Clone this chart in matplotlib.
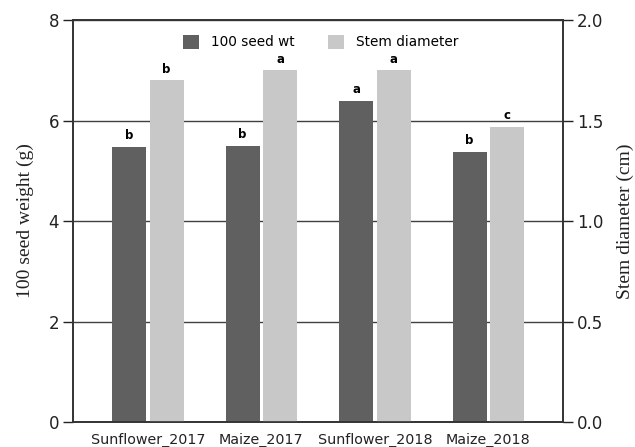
import matplotlib
matplotlib.use("Agg")
import matplotlib.pyplot as plt
import numpy as np

categories = ["Sunflower_2017", "Maize_2017", "Sunflower_2018", "Maize_2018"]
seed_wt = [5.47, 5.50, 6.39, 5.38]
stem_diam = [1.70, 1.75, 1.75, 1.47]
seed_letters = ["b", "b", "a", "b"]
stem_letters = ["b", "a", "a", "c"]

dark = "#606060"
light = "#c8c8c8"

fig = plt.figure(figsize=(6.35, 4.47), dpi=100)
ax = fig.add_axes([0.115, 0.056, 0.772, 0.899])
ax2 = ax.twinx()

x = np.arange(len(categories))
w = 0.30
off = 0.165

ax.set_axisbelow(True)
ax.yaxis.grid(True, color="#404040", linewidth=1.0)
b1 = ax.bar(x - off, seed_wt, w, color=dark, label="100 seed wt", zorder=2)
b2 = ax2.bar(x + off, stem_diam, w, color=light, label="Stem diameter", zorder=2)

ax.set_ylim(0, 8)
ax2.set_ylim(0, 2)
ax.set_xlim(-0.66, 3.66)
ax.set_yticks([0, 2, 4, 6, 8])
ax2.set_yticks([0, 0.5, 1.0, 1.5, 2.0])
ax2.set_yticklabels(["0.0", "0.5", "1.0", "1.5", "2.0"])
ax.set_xticks(x)
ax.set_xticklabels(categories, fontsize=10.3, color="#222222")

for a in (ax, ax2):
    a.tick_params(axis="y", direction="out", length=7, width=1, labelsize=12, colors="#222222", pad=3)
    for s in a.spines.values():
        s.set_color("#333333")
        s.set_linewidth(1.2)
ax.tick_params(axis="x", length=0, pad=8)

for xi, v, t in zip(x - off, seed_wt, seed_letters):
    ax.text(xi, v + 0.1, t, ha="center", va="bottom", fontsize=8.5, fontweight="bold")
for xi, v, t in zip(x + off, stem_diam, stem_letters):
    ax2.text(xi, v + 0.022, t, ha="center", va="bottom", fontsize=8.5, fontweight="bold")

fig.text(25 / 635, 1 - 221 / 447, "100 seed weight (g)", family="Liberation Serif", fontsize=14,
         rotation=90, ha="center", va="center", color="#222222")
fig.text(625 / 635, 1 - 221 / 447, "Stem diameter (cm)", family="Liberation Serif", fontsize=14,
         rotation=90, ha="center", va="center", color="#222222")

fig.legend(handles=[b1, b2], loc="upper center", bbox_to_anchor=(0.505, 0.95), ncol=2,
           frameon=False, fontsize=9.8, handlelength=1.2, handleheight=1.2, columnspacing=2.4,
           handletextpad=0.9)

fig.savefig("out.png", dpi=100)
